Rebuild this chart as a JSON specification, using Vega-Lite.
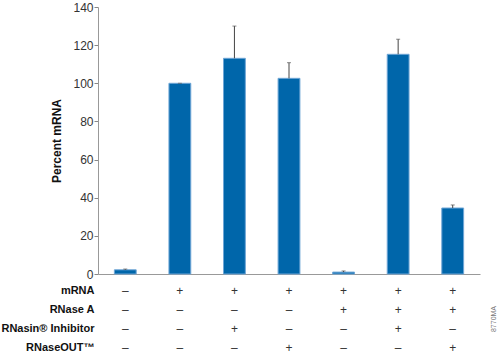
{
  "$schema": "https://vega.github.io/schema/vega-lite/v6.json",
  "background": "white",
  "padding": {"left": 0, "top": 1, "right": 2, "bottom": 0},
  "spacing": 1,
  "config": {"view": {"stroke": null}, "font": "Liberation Sans"},
  "datasets": {
    "bars": [
      {"lane": 1, "pct": 2.2, "upper": 2.6},
      {"lane": 2, "pct": 100, "upper": 100},
      {"lane": 3, "pct": 113.1, "upper": 130},
      {"lane": 4, "pct": 102.6, "upper": 110.8},
      {"lane": 5, "pct": 1.0, "upper": 1.6},
      {"lane": 6, "pct": 115.2, "upper": 123.1},
      {"lane": 7, "pct": 34.6, "upper": 36.2}
    ],
    "table": [
      {"lane": 1, "row": "mRNA", "sign": "–"},
      {"lane": 2, "row": "mRNA", "sign": "+"},
      {"lane": 3, "row": "mRNA", "sign": "+"},
      {"lane": 4, "row": "mRNA", "sign": "+"},
      {"lane": 5, "row": "mRNA", "sign": "+"},
      {"lane": 6, "row": "mRNA", "sign": "+"},
      {"lane": 7, "row": "mRNA", "sign": "+"},
      {"lane": 1, "row": "RNase A", "sign": "–"},
      {"lane": 2, "row": "RNase A", "sign": "–"},
      {"lane": 3, "row": "RNase A", "sign": "–"},
      {"lane": 4, "row": "RNase A", "sign": "–"},
      {"lane": 5, "row": "RNase A", "sign": "+"},
      {"lane": 6, "row": "RNase A", "sign": "+"},
      {"lane": 7, "row": "RNase A", "sign": "+"},
      {"lane": 1, "row": "RNasin® Inhibitor", "sign": "–"},
      {"lane": 2, "row": "RNasin® Inhibitor", "sign": "–"},
      {"lane": 3, "row": "RNasin® Inhibitor", "sign": "+"},
      {"lane": 4, "row": "RNasin® Inhibitor", "sign": "–"},
      {"lane": 5, "row": "RNasin® Inhibitor", "sign": "–"},
      {"lane": 6, "row": "RNasin® Inhibitor", "sign": "+"},
      {"lane": 7, "row": "RNasin® Inhibitor", "sign": "–"},
      {"lane": 1, "row": "RNaseOUT™", "sign": "–"},
      {"lane": 2, "row": "RNaseOUT™", "sign": "–"},
      {"lane": 3, "row": "RNaseOUT™", "sign": "–"},
      {"lane": 4, "row": "RNaseOUT™", "sign": "+"},
      {"lane": 5, "row": "RNaseOUT™", "sign": "–"},
      {"lane": 6, "row": "RNaseOUT™", "sign": "–"},
      {"lane": 7, "row": "RNaseOUT™", "sign": "+"}
    ]
  },
  "vconcat": [
    {
      "width": 382,
      "height": 267,
      "data": {"name": "bars"},
      "encoding": {
        "x": {
          "field": "lane", "type": "ordinal",
          "scale": {"paddingInner": 0.6, "paddingOuter": 0.3},
          "axis": {"labels": false, "ticks": false, "title": null, "domainColor": "#999999", "domainWidth": 1}
        },
        "y": {
          "field": "pct", "type": "quantitative",
          "scale": {"domain": [0, 140], "nice": false},
          "axis": {
            "values": [0, 20, 40, 60, 80, 100, 120, 140],
            "labelOverlap": false,
            "labelFlush": false,
            "grid": false,
            "title": "Percent mRNA",
            "titleFont": "Liberation Sans",
            "titleFontWeight": "bold",
            "titleFontSize": 12,
            "titleColor": "#111111",
            "titlePadding": 9,
            "labelFont": "Liberation Sans",
            "labelFontSize": 12,
            "labelColor": "#333333",
            "labelPadding": 1,
            "tickSize": 4,
            "tickColor": "#888888",
            "domainColor": "#999999"
          }
        }
      },
      "layer": [
        {
          "mark": {"type": "bar", "color": "#0066aa", "stroke": "#6fa6d6", "strokeWidth": 1}
        },
        {
          "mark": {"type": "rule", "color": "#444444", "strokeWidth": 1},
          "encoding": {
            "y2": {"field": "upper"}
          }
        },
        {
          "mark": {"type": "tick", "color": "#555555", "size": 4, "thickness": 1, "orient": "horizontal"},
          "encoding": {
            "y": {"field": "upper", "type": "quantitative"}
          }
        }
      ]
    },
    {
      "width": 382,
      "height": 76,
      "data": {"name": "table"},
      "title": {"text": "8770MA", "orient": "right", "angle": -90, "font": "Liberation Sans", "fontSize": 7, "fontWeight": "normal", "color": "#777777", "anchor": "middle", "offset": 3},
      "mark": {"type": "text", "font": "Liberation Sans", "fontSize": 12, "color": "#333333"},
      "encoding": {
        "x": {"field": "lane", "type": "ordinal", "axis": null},
        "y": {
          "field": "row", "type": "ordinal",
          "sort": ["mRNA", "RNase A", "RNasin® Inhibitor", "RNaseOUT™"],
          "axis": {
            "title": null, "domain": false, "ticks": false,
            "labelFont": "Liberation Sans",
            "labelFontWeight": "bold", "labelFontSize": 11, "labelColor": "#111111",
            "labelPadding": 4
          }
        },
        "text": {"field": "sign"}
      }
    }
  ]
}
